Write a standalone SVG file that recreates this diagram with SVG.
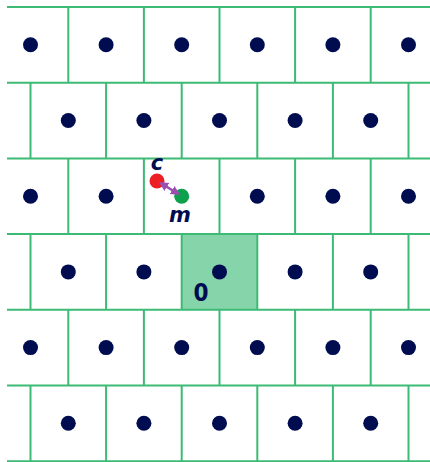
<svg xmlns="http://www.w3.org/2000/svg" width="430" height="462" viewBox="0 0 430 462">
<style>
.g{stroke:#3dbb74;stroke-width:2;fill:none}
.d{fill:#000c50}
.lbl{font-family:"DejaVu Sans","Liberation Sans",sans-serif;font-weight:bold;fill:#000c50}
</style>
<defs>
<marker id="ah" viewBox="0 0 10 10" refX="8" refY="5" markerWidth="3.6" markerHeight="3.6" orient="auto-start-reverse">
<path d="M0,0 L10,5 L0,10 z" fill="#9b4fae"/>
</marker>
<clipPath id="cp"><rect x="6" y="6" width="424" height="456"/></clipPath>
</defs>
<rect width="430" height="462" fill="#ffffff"/>
<g id="cell-origin">
<rect x="181.7" y="233.8" width="75.6" height="75.7" fill="#86d4a9"/>
</g>
<g id="grid" clip-path="url(#cp)" class="g">
<path d="M7,7H430M7,82.7H430M7,158.4H430M7,234.1H430M7,309.8H430M7,385.5H430M7,461.2H430"/>
<path d="M68.3,7V82.7M143.9,7V82.7M219.5,7V82.7M295.1,7V82.7M370.7,7V82.7"/>
<path d="M30.5,82.7V158.4M106.1,82.7V158.4M181.7,82.7V158.4M257.3,82.7V158.4M332.9,82.7V158.4M408.5,82.7V158.4"/>
<path d="M68.3,158.4V234.1M143.9,158.4V234.1M219.5,158.4V234.1M295.1,158.4V234.1M370.7,158.4V234.1"/>
<path d="M30.5,234.1V309.8M106.1,234.1V309.8M181.7,234.1V309.8M257.3,234.1V309.8M332.9,234.1V309.8M408.5,234.1V309.8"/>
<path d="M68.3,309.8V385.5M143.9,309.8V385.5M219.5,309.8V385.5M295.1,309.8V385.5M370.7,309.8V385.5"/>
<path d="M30.5,385.5V461.2M106.1,385.5V461.2M181.7,385.5V461.2M257.3,385.5V461.2M332.9,385.5V461.2M408.5,385.5V461.2"/>
</g>
<g id="sites" class="d">
<circle cx="30.5" cy="44.8" r="7.5"/><circle cx="106.1" cy="44.8" r="7.5"/><circle cx="181.7" cy="44.8" r="7.5"/><circle cx="257.3" cy="44.8" r="7.5"/><circle cx="332.9" cy="44.8" r="7.5"/><circle cx="408.5" cy="44.8" r="7.5"/>
<circle cx="68.3" cy="120.5" r="7.5"/><circle cx="143.9" cy="120.5" r="7.5"/><circle cx="219.5" cy="120.5" r="7.5"/><circle cx="295.1" cy="120.5" r="7.5"/><circle cx="370.7" cy="120.5" r="7.5"/>
<circle cx="30.5" cy="196.2" r="7.5"/><circle cx="106.1" cy="196.2" r="7.5"/><circle cx="257.3" cy="196.2" r="7.5"/><circle cx="332.9" cy="196.2" r="7.5"/><circle cx="408.5" cy="196.2" r="7.5"/>
<circle cx="68.3" cy="271.9" r="7.5"/><circle cx="143.9" cy="271.9" r="7.5"/><circle cx="219.5" cy="271.9" r="7.5"/><circle cx="295.1" cy="271.9" r="7.5"/><circle cx="370.7" cy="271.9" r="7.5"/>
<circle cx="30.5" cy="347.6" r="7.5"/><circle cx="106.1" cy="347.6" r="7.5"/><circle cx="181.7" cy="347.6" r="7.5"/><circle cx="257.3" cy="347.6" r="7.5"/><circle cx="332.9" cy="347.6" r="7.5"/><circle cx="408.5" cy="347.6" r="7.5"/>
<circle cx="68.3" cy="423.3" r="7.5"/><circle cx="143.9" cy="423.3" r="7.5"/><circle cx="219.5" cy="423.3" r="7.5"/><circle cx="295.1" cy="423.3" r="7.5"/><circle cx="370.7" cy="423.3" r="7.5"/>
</g>
<g id="node-c">
<circle cx="157" cy="181" r="7.5" fill="#ec2024"/>
<text class="lbl" x="157" y="170" font-size="21" font-style="italic" text-anchor="middle">c</text>
</g>
<g id="node-m">
<circle cx="181.7" cy="196.2" r="7.5" fill="#0fa04e"/>
<text class="lbl" x="180" y="222" font-size="21" font-style="italic" text-anchor="middle">m</text>
</g>
<g id="connectors">
<line x1="160.5" y1="183" x2="178.5" y2="194" stroke="#9b4fae" stroke-width="2.6" marker-start="url(#ah)" marker-end="url(#ah)"/>
</g>
<g id="label-0">
<text class="lbl" x="201" y="301" font-size="24" font-stretch="condensed" text-anchor="middle">0</text>
</g>
</svg>
